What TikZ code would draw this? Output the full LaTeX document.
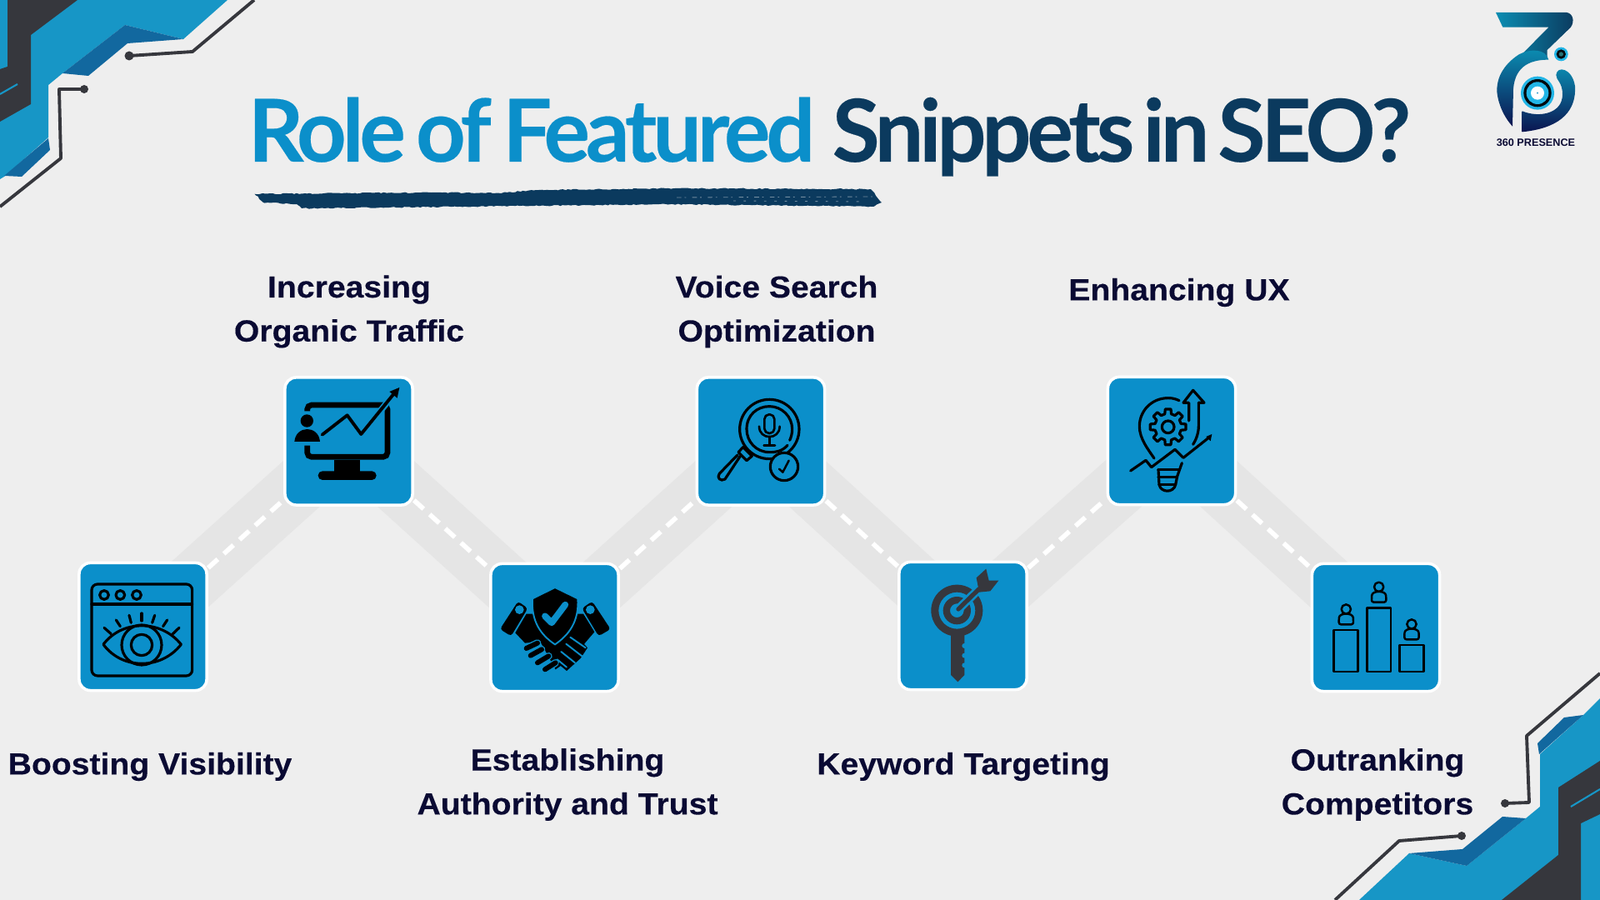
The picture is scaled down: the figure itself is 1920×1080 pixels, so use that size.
\documentclass[tikz,border=0pt]{standalone}
\usepackage{fontspec}
\usetikzlibrary{decorations.pathmorphing}
\setmainfont{Liberation Sans}
\newfontfamily\titlefont[LetterSpace=-5,WordSpace=0.5,FakeBold=0.2]{Lato}
\newfontfamily\labelfont[FakeStretch=1.07,FakeBold=0.25]{Liberation Sans}
\definecolor{bgcol}{HTML}{EEEEEE}
\definecolor{boxcol}{HTML}{0B8FCA}
\definecolor{cornercol}{HTML}{1796C6}
\definecolor{shadecol}{HTML}{12689F}
\definecolor{slatecol}{HTML}{36373D}
\definecolor{navycol}{HTML}{0B3A5E}
\definecolor{deepcol}{HTML}{0B1550}
\definecolor{tealcol}{HTML}{0B8DB2}
\definecolor{ringcol}{HTML}{22B5E6}
\definecolor{textcol}{HTML}{0A0A33}
\pgfdeclarelayer{road}
\pgfsetlayers{road,main}
\tikzset{
  box/.style={draw=white,fill=boxcol,line width=1pt,rounded corners=3.8pt,minimum size=1.53cm,inner sep=0pt},
  lbl/.style={text=textcol,align=center,font=\labelfont\bfseries\fontsize{10.4}{15}\selectfont},
  road/.style={draw=black!10,line width=0.7cm},
  dashlink/.style={draw=white,line width=1.6pt,dash pattern=on 4.4pt off 2.8pt},
  wire/.style={draw=slatecol,line width=1.1pt,line join=round},
  icon/.style={draw=black,line width=0.9pt,line cap=round,line join=round},
  thinblue/.style={draw=boxcol,line width=0.55pt,line cap=round},
  finger/.style={draw=black,line width=1.7pt,line cap=round}
}
\begin{document}
\begin{tikzpicture}[x=0.01cm,y=-0.01cm]
  \useasboundingbox (0,0) rectangle (1920,1080);

  \node[box] (1) at (171.5,752) {};
  \node[box] (2) at (418.5,529.5) {};
  \node[box] (3) at (665.5,753) {};
  \node[box] (4) at (913,529.5) {};
  \node[box] (5) at (1155.5,751) {};
  \node[box] (6) at (1406,529) {};
  \node[box] (7) at (1651,753) {};

  \begin{pgfonlayer}{road}
    \fill[bgcol] (0,0) rectangle (1920,1080);
    \draw[road] (1.center) -- (2.center);
    \draw[road] (2.center) -- (3.center);
    \draw[road] (3.center) -- (4.center);
    \draw[road] (4.center) -- (5.center);
    \draw[road] (5.center) -- (6.center);
    \draw[road] (6.center) -- (7.center);
    \draw[dashlink] (1) -- (2);
    \draw[dashlink] (2) -- (3);
    \draw[dashlink] (3) -- (4);
    \draw[dashlink] (4) -- (5);
    \draw[dashlink] (5) -- (6);
    \draw[dashlink] (6) -- (7);
  \end{pgfonlayer}

  \node[lbl] (l1) at (180,920) {Boosting Visibility};
  \node[lbl] (l2) at (419,374) {Increasing\\Organic Traffic};
  \node[lbl] (l3) at (681,941.5) {Establishing\\Authority and Trust};
  \node[lbl] (l4) at (932,374) {Voice Search\\Optimization};
  \node[lbl] (l5) at (1156,920) {Keyword Targeting};
  \node[lbl] (l6) at (1415,351) {Enhancing UX};
  \node[lbl] (l7) at (1653,941.5) {Outranking\\Competitors};

  \node[anchor=base west,inner sep=0pt,text=boxcol,font=\titlefont\bfseries\fontsize{29.6}{32}\selectfont] (t1) at (297,194) {Role\kern0.6pt{} of\kern1pt{} Featured};
  \node[anchor=base west,inner sep=0pt,text=navycol,font=\titlefont\bfseries\fontsize{29.6}{32}\selectfont] (t2) at (998,194) {Snippets in SEO?};

  \fill[navycol,decorate,decoration={random steps,segment length=0.9pt,amplitude=0.2pt}]
    (305.5,232.7) -- (525,231) -- (596,231.7) -- (647,228) -- (810,226) -- (1045,227) -- (1058,243)
    -- (1048,248) -- (805,245) -- (637,247) -- (362,250) -- (356,245) -- (316,243) -- cycle;
  \draw[bgcol!45!navycol,line width=0.25pt,dash pattern=on 1.6pt off 1.1pt on 0.5pt off 2.1pt] (812,237) -- (1048,236);
  \draw[bgcol!45!navycol,line width=0.25pt,dash pattern=on 0.8pt off 2.7pt] (880,241) -- (1040,242);

  \fill[cornercol] (273,0) -- (220,47) -- (150,30) -- (75,88) -- (58,102) -- (58,165) -- (5,212) -- (0,215) -- (0,0) -- cycle;
  \fill[shadecol] (150,30) -- (220,47) -- (153,52) -- (106,91) -- (75,88) -- cycle;
  \fill[shadecol] (58,166) -- (60,180) -- (26,212) -- (5,211) -- cycle;
  \fill[slatecol] (93,0) -- (37,42) -- (37,125) -- (0,146) -- (0,83) -- (9,80) -- (9,0) -- cycle;
  \draw[cornercol,line width=0.6pt] (0,113) -- (21,101);
  \fill[slatecol] (155,67) circle (5.5);
  \fill[slatecol] (101,107) circle (5);
  \draw[wire] (155,67) -- (231,62) -- (305,0);
  \draw[wire] (101,107) -- (71,107) -- (73,190) -- (0,248);

  \fill[cornercol] (1631,1080) -- (1691,1024) -- (1760,1039) -- (1831,982) -- (1848,968) -- (1848,905) -- (1900,858) -- (1920,838) -- (1920,1080) -- cycle;
  \fill[shadecol] (1691,1024) -- (1755,1019) -- (1803,980) -- (1831,982) -- (1760,1039) -- cycle;
  \fill[shadecol] (1845,892) -- (1877,861) -- (1900,858) -- (1847,905) -- cycle;
  \fill[slatecol] (1802,1080) -- (1870,1026) -- (1870,945) -- (1920,913) -- (1920,977) -- (1897,988) -- (1897,1080) -- cycle;
  \draw[cornercol,line width=0.6pt] (1885,968) -- (1920,947);
  \fill[slatecol] (1806,964) circle (5);
  \fill[slatecol] (1754,1003) circle (5);
  \draw[wire] (1806,964) -- (1835,963) -- (1832,883) -- (1920,808);
  \draw[wire] (1754,1003) -- (1679,1009) -- (1602,1080);

  \begin{scope}[shift={(80,440)},scale=1/3]
    \draw[icon,rounded corners=2pt] (90,783) rectangle (452,1113);
    \draw[icon] (90,855) -- (452,855);
    \draw[icon] (135,822) circle (16);
    \draw[icon] (193,822) circle (16);
    \draw[icon] (252,822) circle (16);
    \draw[icon] (132,1000) .. controls (200,910) and (340,910) .. (412,1000) .. controls (340,1092) and (200,1092) .. (132,1000) -- cycle;
    \draw[icon] (270,1002) circle (72);
    \draw[icon] (270,1002) circle (38);
    \draw[icon] (135,940) -- (160,962);
    \draw[icon] (178,912) -- (193,935);
    \draw[icon] (225,895) -- (232,922);
    \draw[icon] (270,888) -- (270,915);
    \draw[icon] (317,895) -- (308,922);
    \draw[icon] (362,912) -- (347,935);
    \draw[icon] (405,940) -- (382,962);

    \draw[black,line width=1.9pt,rounded corners=1.5pt] (866,160) -- (866,138) -- (1155,138) -- (1155,325) -- (866,325) -- (866,284);
    \fill[black] (962,335) rectangle (1057,378);
    \fill[black,rounded corners=1.5pt] (905,408) -- (905,376) -- (1115,376) -- (1115,408) -- cycle;
    \fill[black] (865,195) circle (23);
    \fill[black] (820,270) .. controls (825,210) and (907,210) .. (912,270) -- cycle;
    \draw[boxcol,line width=2.2pt] (1062,243) -- (1185,90);
    \draw[icon,line width=1.1pt] (920,245) -- (1010,175) -- (1060,243) -- (1180,95);
    \fill[black] (1198,75) -- (1162,90) -- (1190,113) -- cycle;
  \end{scope}

  \begin{scope}[shift={(590,690)},scale=1/3]
    \fill[black,rounded corners=1pt] (95,95) -- (130,120) -- (70,220) -- (30,195) -- cycle;
    \fill[black,rounded corners=1pt] (362,95) -- (325,120) -- (385,220) -- (428,195) -- cycle;
    \fill[boxcol] (100,125) circle (16);
    \fill[boxcol] (355,125) circle (16);
    \fill[black] (125,140) -- (85,208) -- (120,245) -- (175,240) -- (230,340) -- (300,290) -- (340,240) -- (370,205) -- (330,140) -- cycle;
    \draw[finger,draw=boxcol,line width=2.5pt] (125,264) -- (165,245);
    \draw[finger,draw=boxcol,line width=2.5pt] (140,290) -- (180,268);
    \draw[finger,draw=boxcol,line width=2.5pt] (165,316) -- (205,292);
    \draw[finger,draw=boxcol,line width=2.5pt] (192,340) -- (230,316);
    \draw[finger] (125,264) -- (165,245);
    \draw[finger] (140,290) -- (180,268);
    \draw[finger] (165,316) -- (205,292);
    \draw[finger] (192,340) -- (230,316);
    \fill[black] (323,238) -- (345,262) -- (320,300) -- (270,345) -- (240,320) -- (290,270) -- cycle;
    \draw[thinblue] (283,224) -- (338,262);
    \draw[thinblue] (268,248) -- (325,292);
    \draw[thinblue] (250,276) -- (300,316);
    \draw[thinblue] (236,304) -- (270,332);
    \draw[thinblue,fill=black] (228,45) -- (310,85) .. controls (315,165) and (280,215) .. (228,250) .. controls (175,215) and (142,165) .. (147,85) -- cycle;
    \draw[boxcol,line width=2.2pt,line cap=round,line join=round] (192,148) -- (216,172) -- (265,107);
  \end{scope}

  \begin{scope}[shift={(570,440)},scale=1/3]
    \draw[icon] (1060,225) circle (107);
    \draw[icon] (1125,283) .. controls (1105,305) and (1085,308) .. (1060,308) .. controls (1012,308) and (978,270) .. (978,225) .. controls (978,175) and (1015,143) .. (1060,143) .. controls (1105,143) and (1142,180) .. (1142,225) .. controls (1142,240) and (1138,255) .. (1133,265);
    \draw[icon,line width=0.75pt,rounded corners=1.6pt] (1042,240) rectangle (1078,172);
    \draw[icon,line width=0.75pt] (1023,215) .. controls (1023,265) and (1097,265) .. (1097,215);
    \draw[icon,line width=0.75pt] (1060,252) -- (1060,283);
    \draw[icon,line width=0.75pt] (1040,283) -- (1080,283);
    \draw[icon] (965,290) -- (997,322) -- (978,338) -- (948,308) -- cycle;
    \draw[icon] (955,322) -- (900,405) .. controls (885,415) and (868,400) .. (880,385) -- (945,318);
    \draw[icon,fill=boxcol] (1113,360) circle (50);
    \draw[icon,line width=0.7pt] (1095,368) -- (1108,380) -- (1130,338);
  \end{scope}

  \begin{scope}[shift={(1060,440)},scale=1/3]
    \fill[slatecol,even odd rule] (265,878) circle (93) (265,878) circle (66) (265,878) circle (50) (265,878) circle (25);
    \fill[slatecol] (243,965) -- (292,965) -- (292,1110) -- (268,1135) -- (243,1110) -- cycle;
    \fill[boxcol] (292,1005) circle (9);
    \fill[boxcol] (292,1040) circle (9);
    \fill[boxcol] (292,1075) circle (9);
    \draw[boxcol,line width=3pt,line cap=round] (265,878) -- (345,800);
    \draw[slatecol,line width=1.5pt,line cap=round] (270,873) -- (345,800);
    \fill[slatecol] (335,760) -- (370,728) -- (380,770) -- (415,770) -- (385,808) -- (345,812) -- cycle;

    \draw[icon] (1065,122) .. controls (1045,113) and (1035,113) .. (1025,113) .. controls (965,113) and (922,160) .. (922,215) .. controls (922,260) and (955,300) .. (975,330);
    \draw[icon] (1135,130) -- (1135,215) .. controls (1135,240) and (1125,265) .. (1115,280);
    \draw[icon] (1100,195) -- (1100,130) -- (1080,130) -- (1115,85) -- (1155,130) -- (1135,130);
    \begin{scope}[shift={(1025,217)}]
      \draw[icon] (-14:48) \foreach \a in {0,45,...,315} { -- (\a-14:48) -- (\a-9:65) -- (\a+9:65) -- (\a+14:48) } -- cycle;
      \draw[icon] (0,0) circle (22);
    \end{scope}
    \draw[icon] (890,375) -- (945,337) -- (965,362) -- (1050,298) -- (1080,328) -- (1175,253);
    \fill[black] (1183,243) -- (1162,252) -- (1178,268) -- cycle;
    \draw[icon] (1075,347) -- (1058,395) -- (1052,425) .. controls (1045,455) and (1000,455) .. (993,425) -- (990,370);
    \draw[icon] (990,370) -- (1062,370);
    \draw[icon] (990,398) -- (1058,398);
    \draw[icon] (993,425) -- (1052,425);
  \end{scope}

  \begin{scope}[shift={(1560,660)},scale=1/3]
    \draw[icon,line width=0.8pt] (122,288) rectangle (209,438);
    \draw[icon,line width=0.8pt] (241,208) rectangle (327,438);
    \draw[icon,line width=0.8pt] (359,342) rectangle (445,438);
    \foreach \px/\py in {166/213,284/133,402/267} {
      \draw[icon,line width=0.7pt] (\px,\py) circle (17);
      \draw[icon,line width=0.7pt,rounded corners=0.7pt] (\px-26,\py+55) -- (\px-26,\py+38) .. controls (\px-24,\py+12) and (\px+24,\py+12) .. (\px+26,\py+38) -- (\px+26,\py+55) -- cycle;
    }
  \end{scope}

  \begin{scope}[shift={(1780,10)},scale=1/3]
    \shade[left color=tealcol,right color=navycol] (45,15) -- (300,15) .. controls (322,18) and (330,45) .. (315,68) -- (230,150) -- (230,175) -- (100,205) -- (235,68) -- (70,68) -- cycle;
    \shade[top color=tealcol,bottom color=deepcol] (235,185) .. controls (180,185) and (115,200) .. (108,290) -- (105,425) .. controls (55,370) and (45,300) .. (50,280) .. controls (55,230) and (90,190) .. (130,165) .. controls (170,145) and (225,145) .. (235,185) -- cycle;
    \shade[top color=tealcol,bottom color=deepcol] (140,370) .. controls (200,395) and (285,380) .. (285,310) .. controls (285,265) and (262,260) .. (262,240) .. controls (265,205) and (320,215) .. (330,280) .. controls (335,360) and (290,430) .. (140,445) -- cycle;
    \fill[ringcol] (195,305) circle (60);
    \fill[black!85!navycol] (195,305) circle (50);
    \fill[ringcol] (195,305) circle (40);
    \fill[white] (195,305) circle (24);
    \fill[boxcol] (195,305) circle (3);
    \fill[ringcol] (280,165) circle (25);
    \fill[black!85!navycol] (280,165) circle (17);
    \fill[slatecol!70!cyan] (280,165) circle (8);
  \end{scope}
  \node[text=textcol,inner sep=0pt,font=\bfseries\fontsize{3.6}{4}\selectfont] (logo) at (1843,171) {360 PRESENCE};
\end{tikzpicture}
\end{document}
